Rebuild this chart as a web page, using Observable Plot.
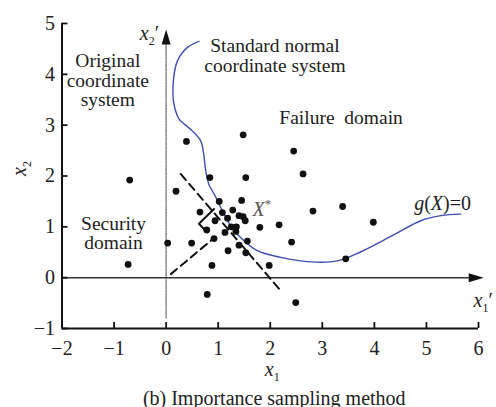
<!DOCTYPE html>
<html>
<head>
<meta charset="utf-8">
<script src="https://cdn.jsdelivr.net/npm/d3@7"></script>
<script src="https://cdn.jsdelivr.net/npm/@observablehq/plot@0.6"></script>
<style>
  body { margin: 0; background: #fff; }
  #chart svg { display: block; }
</style>
</head>
<body>
<div id="chart"></div>
<script>
// Axis ticks
const xTicks = [-2, -1, 0, 1, 2, 3, 4, 5, 6];
const yTicks = [-1, 0, 1, 2, 3, 4, 5];

// Importance samples
const sampleX = [1.48, 0.39, 0.84, 1.53, 0.19, 1.02, 1.45, 0.65, 1.08, 1.28, 1.40, 1.52, 1.18, 0.94,
  0.78, 1.13, 1.25, 1.35, 1.34, 1.80, 2.17, 0.92, 0.49, 0.03, 1.56, 1.40, 1.19, 1.53, 0.88, 1.98,
  2.45, 2.63, 2.82, 3.39, 3.98, 2.41, 3.45, -0.73, 0.79, 2.49, -0.70, 1.48];
const sampleY = [2.81, 2.68, 1.97, 1.97, 1.70, 1.50, 1.52, 1.29, 1.28, 1.33, 1.22, 1.12, 1.17, 1.12,
  0.94, 0.89, 1.00, 1.00, 0.91, 0.99, 1.04, 0.77, 0.68, 0.68, 0.72, 0.64, 0.53, 0.49, 0.24, 0.24,
  2.49, 2.04, 1.31, 1.40, 1.09, 0.70, 0.37, 0.26, -0.33, -0.49, 1.92, 1.20];

// Limit state surface g(X) = 0
const limitX = [0.63, 0.41, 0.22, 0.14, 0.15, 0.25, 0.34, 0.50, 0.66, 0.72, 0.76, 0.82, 0.92, 1.08,
  1.24, 1.43, 1.75, 2.20, 2.78, 3.29, 3.74, 4.35, 4.89, 5.28, 5.66];
const limitY = [4.65, 4.53, 4.27, 3.88, 3.42, 3.12, 3.03, 2.89, 2.70, 2.44, 2.11, 1.84, 1.65, 1.32,
  1.02, 0.79, 0.53, 0.40, 0.31, 0.33, 0.51, 0.83, 1.12, 1.22, 1.25];

// Design-point ray, tangent at X*, and right-angle mark
const rayX = [0.09, 0.92], rayY = [0.07, 0.78];
const tangentX = [0.28, 2.17], tangentY = [2.04, -0.22];
const cornerX = [0.92, 0.63, 0.79], cornerY = [1.35, 1.06, 0.89];

// Standard normal axes x1', x2'
const uAxisX = [0, 0], uAxisY = [-0.79, 4.62];
const vAxisX = [-2, 5.9], vAxisY = [0, 0];
const tipUpX = [0], tipUpY = [4.88];
const tipRightX = [6.1], tipRightY = [0];

// Region annotations
const noteText = ["Original\ncoordinate\nsystem", "Standard normal\ncoordinate system", "Failure\u00a0 domain", "Security\ndomain"];
const noteX = [-1.12, 2.09, 3.36, -1.01];
const noteY = [3.88, 4.37, 3.15, 0.87];

// Symbol labels
const symText = ["X*", "g(X)=0", "x1'", "x2'"];
const symX = [1.84, 5.31, 6.09, -0.32];
const symY = [1.34, 1.46, -0.45, 4.8];
const symFill = ["#555", "#222", "#222", "#222"];

const caption = "(b) Importance sampling method";

const pts = (xs, ys) => xs.map((x, i) => ({x, y: ys[i]}));

// Slim filled arrowheads with the tip at the anchor point
const headUp = {draw(ctx) { ctx.moveTo(0, 0); ctx.lineTo(4.5, 15); ctx.lineTo(-4.5, 15); ctx.closePath(); }};
const headRight = {draw(ctx) { ctx.moveTo(0, 0); ctx.lineTo(-15, 4.5); ctx.lineTo(-15, -4.5); ctx.closePath(); }};

const minus = d => (d < 0 ? "\u2212" + (-d) : String(d));

const chart = Plot.plot({
  width: 496,
  height: 407,
  marginLeft: 61.5,
  marginRight: 18,
  marginTop: 23,
  marginBottom: 79,
  x: {domain: [-2, 6]},
  y: {domain: [-1, 5]},
  style: {fontFamily: "'Liberation Serif', 'Times New Roman', serif", fontSize: "20px", background: "#fff", color: "#222"},
  marks: [
    // standard normal axes
    Plot.line(pts(uAxisX, uAxisY), {x: "x", y: "y", stroke: "#8a8a8a", strokeWidth: 1.6, strokeDasharray: "1.6,1"}),
    Plot.line(pts(vAxisX, vAxisY), {x: "x", y: "y", stroke: "#333", strokeWidth: 1.5, strokeDasharray: "1.6,0.8"}),
    Plot.dot(pts(tipUpX, tipUpY), {x: "x", y: "y", symbol: headUp, fill: "#111", stroke: "none", r: 5}),
    Plot.dot(pts(tipRightX, tipRightY), {x: "x", y: "y", symbol: headRight, fill: "#111", stroke: "none", r: 5}),
    // limit state
    Plot.line(pts(limitX, limitY), {x: "x", y: "y", curve: "catmull-rom", stroke: "#3d4fae", strokeWidth: 1.4}),
    // design point geometry
    Plot.line(pts(rayX, rayY), {x: "x", y: "y", stroke: "#111", strokeWidth: 2, strokeDasharray: "8,5"}),
    Plot.line(pts(tangentX, tangentY), {x: "x", y: "y", stroke: "#111", strokeWidth: 2, strokeDasharray: "8,5"}),
    Plot.line(pts(cornerX, cornerY), {x: "x", y: "y", stroke: "#111", strokeWidth: 2}),
    // samples
    Plot.dot(pts(sampleX, sampleY), {x: "x", y: "y", r: 3.4, fill: "#111", stroke: "none"}),
    // frame axes
    Plot.ruleX([-2], {stroke: "#111", strokeWidth: 2}),
    Plot.ruleY([-1], {stroke: "#111", strokeWidth: 2}),
    Plot.axisX(xTicks, {tickSize: -6, tickPadding: 18, tickFormat: minus, stroke: "#111", strokeWidth: 1.8, fontSize: 20, fill: "#222", label: null}),
    Plot.axisY(yTicks, {tickSize: -6, tickPadding: 13, tickFormat: minus, stroke: "#111", strokeWidth: 1.8, fontSize: 20, fill: "#222", label: null}),
    // annotations
    Plot.text(noteText.map((t, i) => ({t, x: noteX[i], y: noteY[i]})), {x: "x", y: "y", text: "t", fontSize: 19.5, lineHeight: 1.0, fill: "#222"}),
    Plot.text(symText.map((t, i) => ({t, x: symX[i], y: symY[i], c: symFill[i]})), {x: "x", y: "y", text: "t", fontSize: 20, fill: "c"}),
    Plot.text(["x2"], {text: d => d, frameAnchor: "left", dx: -42, rotate: -90, fontSize: 20, fill: "#222"}),
    Plot.text(["x1"], {text: d => d, frameAnchor: "bottom", dy: 47, dx: 2, fontSize: 20, fill: "#222"}),
    Plot.text([caption], {text: d => d, frameAnchor: "bottom", dy: 76, dx: 4, fontSize: 20, fill: "#222"})
  ]
});

// Italic symbols with sub/superscripts
const rich = {
  "x1": [["x", "i"], ["1", "sub"]],
  "x2": [["x", "i"], ["2", "sub"]],
  "x1'": [["x", "i"], ["1", "sub"], ["\u2032", ""]],
  "x2'": [["x", "i"], ["2", "sub"], ["\u2032", ""]],
  "X*": [["X", "i"], ["*", "sup"]],
  "g(X)=0": [["g", "i"], ["(", ""], ["X", "i"], [")=0", ""]]
};
const NS = "http://www.w3.org/2000/svg";
chart.querySelectorAll("text").forEach(el => {
  if (el.children.length) return;
  const parts = rich[el.textContent];
  if (!parts) return;
  el.textContent = "";
  let shift = 0;
  for (const [s, kind] of parts) {
    const t = document.createElementNS(NS, "tspan");
    t.textContent = s;
    const target = kind === "sub" ? 5 : kind === "sup" ? -8 : 0;
    if (target !== shift) { t.setAttribute("dy", target - shift); shift = target; }
    if (kind === "i") t.setAttribute("font-style", "italic");
    if (kind === "sub") t.setAttribute("font-size", 12);
    if (kind === "sup") t.setAttribute("font-size", 13);
    el.appendChild(t);
  }
});

document.getElementById("chart").appendChild(chart);
</script>
</body>
</html>
